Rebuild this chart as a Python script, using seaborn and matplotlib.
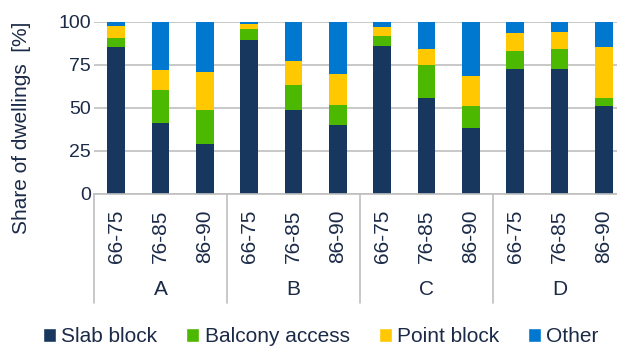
import numpy as np
import pandas as pd
import matplotlib
matplotlib.use("Agg")
import matplotlib.pyplot as plt
import seaborn as sns
from matplotlib.patches import Patch

# Data
regions = ["A", "B", "C", "D"]
periods = ["66-75", "76-85", "86-90"]
types = ["Slab block", "Balcony access", "Point block", "Other"]

slab = [85.5, 41.4, 28.8, 89.4, 48.5, 40.0, 86.1, 55.7, 38.5, 72.5, 72.5, 51.3]
balcony = [4.8, 18.8, 20.1, 6.2, 14.9, 11.5, 5.8, 19.3, 12.8, 10.5, 11.8, 4.6]
point = [7.4, 11.8, 21.9, 3.2, 14.0, 18.1, 5.2, 9.1, 17.4, 10.4, 9.5, 29.4]
other = [2.3, 28.0, 29.2, 1.2, 22.6, 30.4, 2.9, 15.9, 31.3, 6.6, 6.2, 14.7]

colors = ["#17375E", "#4CB800", "#FFC800", "#0078CF"]
text_col = "#1B2A47"

sns.set_theme(style="white")
plt.rcParams["font.family"] = ["Liberation Sans", "DejaVu Sans"]

cats = [f"{r} {p}" for r in regions for p in periods]
df = pd.DataFrame({"cat": cats, "Slab block": slab, "Balcony access": balcony,
                   "Point block": point, "Other": other})

# cumulative sums, drawn back to front
cum = df[types].cumsum(axis=1)

fig = plt.figure(figsize=(6.17, 3.47), dpi=100)
ax = fig.add_axes([94 / 617, 1 - 194 / 347, 532 / 617, 172.3 / 347])

for t, c in reversed(list(zip(types, colors))):
    sns.barplot(x=df["cat"], y=cum[t], order=cats, color=c, width=0.4,
                saturation=1, ax=ax, edgecolor="none")

ax.set_xlim(-0.5, 11.5)
ax.set_ylim(0, 100)
ax.set_yticks([0, 25, 50, 75, 100])
ax.yaxis.grid(True, color="#BFBFBF", linewidth=1.2)
ax.set_axisbelow(True)
for s in ["top", "right", "left"]:
    ax.spines[s].set_visible(False)
ax.spines["bottom"].set_color("#BFBFBF")
ax.spines["bottom"].set_linewidth(1.2)

ax.set_xticks(range(len(cats)))
ax.set_xticklabels(periods * len(regions), rotation=90, va="top", ha="center")
ax.tick_params(axis="x", length=0, pad=11, labelsize=15, labelcolor=text_col)
ax.tick_params(axis="y", length=0, pad=2, labelsize=14, labelcolor=text_col)
ax.set_xlabel("")
ax.set_ylabel("")
fig.text(22 / 617, 1 - 128 / 347, "Share of dwellings  [%]", rotation=90,
         ha="center", va="center", fontsize=15, color=text_col)

# group labels and separators
trans = ax.get_xaxis_transform()
for i, r in enumerate(regions):
    ax.text(i * 3 + 1, -0.557, r, transform=trans, ha="center", va="center",
            fontsize=15, color=text_col)
for i in range(len(regions) + 1):
    ax.plot([i * 3 - 0.5, i * 3 - 0.5], [0, -0.633], transform=trans,
            color="#BFBFBF", linewidth=1.2, clip_on=False)

handles = [Patch(facecolor=c, label=t) for t, c in zip(types, colors)]
fig.legend(handles=handles, loc="center", bbox_to_anchor=(0.52, 0.03), ncol=4,
           frameon=False, fontsize=15, handlelength=0.62, handleheight=0.62,
           handletextpad=0.25, columnspacing=1.4, labelcolor=text_col,
           borderpad=0)

fig.savefig("out.png", dpi=100)
